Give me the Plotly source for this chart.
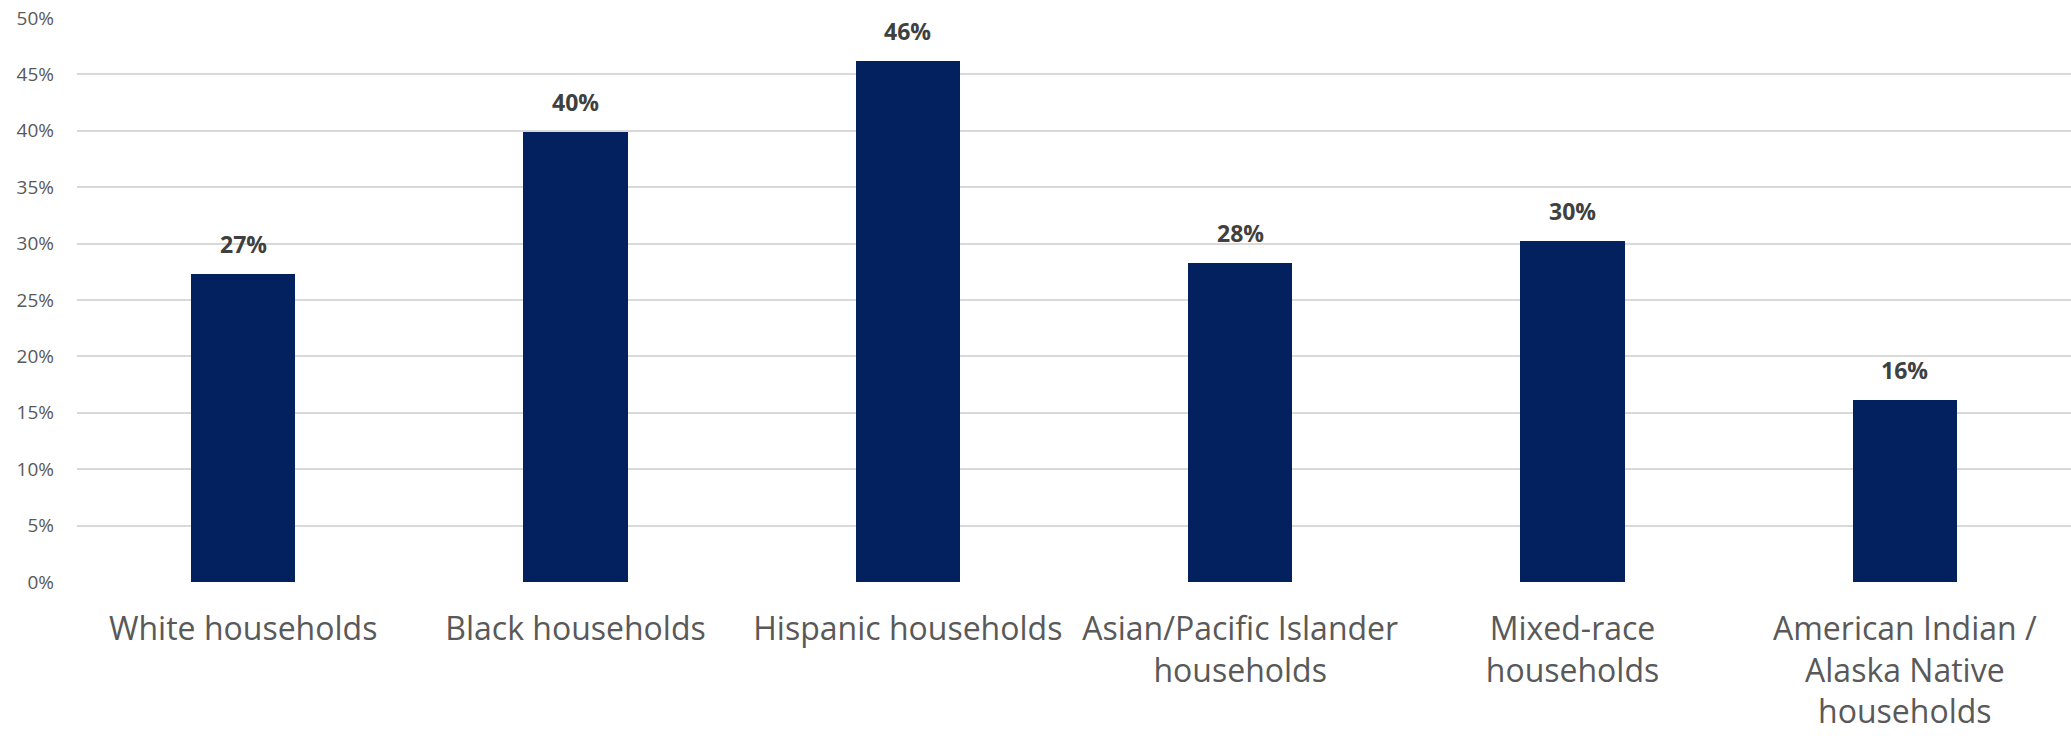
import plotly.graph_objects as go

categories = ["White households", "Black households", "Hispanic households",
              "Asian/Pacific Islander<br>households", "Mixed-race<br>households",
              "American Indian /<br>Alaska Native<br>households"]
values = [27.3, 39.9, 46.2, 28.3, 30.2, 16.1]
tick_vals = [0, 5, 10, 15, 20, 25, 30, 35, 40, 45, 50]
tick_text = [f"{v}%" for v in tick_vals]

fig = go.Figure()
fig.add_trace(go.Bar(
    x=categories, y=values, marker=dict(color="#03215E", line=dict(width=0)),
    width=0.313, hoverinfo="skip"))

for c, v in zip(categories, values):
    fig.add_annotation(x=c, y=v, text=f"<b>{round(v):.0f}%</b>", showarrow=False,
                       yanchor="bottom", yshift=12,
                       font=dict(family="Open Sans", size=23, color="#404040"))

fig.update_layout(
    width=2071, height=739,
    margin=dict(l=77, r=0, t=18, b=157),
    paper_bgcolor="white", plot_bgcolor="white",
    showlegend=False, bargap=0,
    font=dict(family="Open Sans", color="#595959"),
)
fig.update_yaxes(range=[0, 50], tickvals=tick_vals, ticktext=tick_text,
                 showgrid=True, gridcolor="#D9D9D9", gridwidth=2,
                 zeroline=False, showline=False, ticks="",
                 ticklabelstandoff=22,
                 tickfont=dict(family="Open Sans", size=19, color="#595959"))
fig.update_xaxes(showgrid=False, showline=False, ticks="", zeroline=False,
                 ticklabelstandoff=25,
                 tickfont=dict(family="Open Sans", size=32, color="#595959"))

fig.write_html("out.html")
